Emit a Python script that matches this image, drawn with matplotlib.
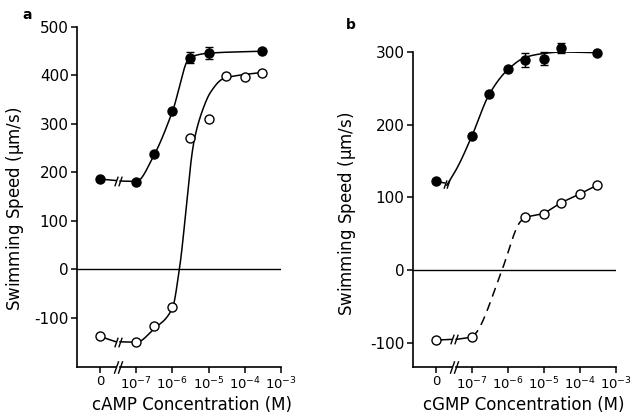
import numpy as np
import matplotlib
matplotlib.use("Agg")
import matplotlib.pyplot as plt
from matplotlib.path import Path

plt.rcParams['font.family'] = ['DejaVu Sans']
plt.rcParams['mathtext.default'] = 'regular'

# ---------------- data ----------------
# concentrations in M (0 = no nucleotide, drawn at the "0" tick)
a_filled_conc = [0, 1e-7, 3e-7, 1e-6, 3e-6, 1e-5, 3e-4]
a_filled_speed = [186, 181, 237, 326, 437, 446, 450]
a_filled_err = [0, 0, 0, 0, 12, 13, 0]

a_open_conc = [0, 1e-7, 3e-7, 1e-6, 3e-6, 1e-5, 3e-5, 1e-4, 3e-4]
a_open_speed = [-139, -151, -118, -79, 271, 311, 398, 396, 406]

b_filled_conc = [0, 1e-7, 3e-7, 1e-6, 3e-6, 1e-5, 3e-5, 3e-4]
b_filled_speed = [122, 185, 242, 276, 289, 291, 305, 298]
b_filled_err = [0, 0, 0, 0, 10, 9, 7, 0]

b_open_conc = [0, 1e-7, 3e-6, 1e-5, 3e-5, 1e-4, 3e-4]
b_open_speed = [-96, -92, 73, 78, 93, 105, 117]

# fitted curves (log10 concentration, speed)
a_filled_fit_x = [-7.45, -7.0, -6.52, -6.0, -5.52, -5.0, -3.52]
a_filled_fit_y = [182, 181, 234, 326, 437, 446, 450]
a_open_fit_x = [-7.45, -7.0, -6.52, -6.0, -5.81, -5.40, -5.16, -4.95, -4.6, -4.0, -3.52]
a_open_fit_y = [-150, -151, -124, -80, 0, 266, 330, 365, 393, 402, 406]
b_filled_fit_x = [-7.7, -7.4, -7.0, -6.52, -6.0, -5.5, -5.0, -4.5, -3.52]
b_filled_fit_y = [117, 142, 185, 242, 276, 293, 298, 300, 299]
b_open_dash_x = [-7.0, -6.87, -6.17, -5.67, -5.52]
b_open_dash_y = [-92, -85, 0, 66, 73]

xtick_pos = [-8, -7, -6, -5, -4, -3]
xtick_labels = ['0', '$10^{-7}$', '$10^{-6}$', '$10^{-5}$', '$10^{-4}$', '$10^{-3}$']


def xpos(conc):
    c = np.asarray(conc, dtype=float)
    out = np.full(c.shape, -8.0)
    nz = c > 0
    out[nz] = np.log10(c[nz])
    return out


def pchip(xk, yk, n=300):
    xk = np.asarray(xk, float)
    yk = np.asarray(yk, float)
    h = np.diff(xk)
    d = np.diff(yk) / h
    m = np.zeros_like(xk)
    m[0] = d[0]
    m[-1] = d[-1]
    for k in range(1, len(xk) - 1):
        if d[k - 1] * d[k] <= 0:
            m[k] = 0.0
        else:
            w1 = 2 * h[k] + h[k - 1]
            w2 = h[k] + 2 * h[k - 1]
            m[k] = (w1 + w2) / (w1 / d[k - 1] + w2 / d[k])
    xs = np.linspace(xk[0], xk[-1], n)
    idx = np.clip(np.searchsorted(xk, xs) - 1, 0, len(xk) - 2)
    t = (xs - xk[idx]) / h[idx]
    h00 = 2 * t**3 - 3 * t**2 + 1
    h10 = t**3 - 2 * t**2 + t
    h01 = -2 * t**3 + 3 * t**2
    h11 = t**3 - t**2
    ys = h00 * yk[idx] + h10 * h[idx] * m[idx] + h01 * yk[idx + 1] + h11 * h[idx] * m[idx + 1]
    return xs, ys


slash = Path([(-0.35, -1.0), (0.35, 1.0)], [Path.MOVETO, Path.LINETO])


def brk(ax, x1, x2, y, ms=7, clip=True):
    ax.plot([x1, x2], [y, y], ls='none', marker=slash, ms=ms, mec='black',
            mew=1.0, clip_on=clip, zorder=6)


def setup(ax, ylim, yticks, xlabel, xl_coords, yl_coords):
    ax.set_xlim(-8.64, -3.0)
    ax.set_ylim(*ylim)
    for s in ['top', 'right', 'bottom']:
        ax.spines[s].set_visible(False)
    ax.spines['left'].set_linewidth(1.2)
    ymin = ylim[0]
    ax.plot([-8.64, -7.56], [ymin, ymin], color='black', lw=1.2, clip_on=False)
    ax.plot([-7.44, -3.0], [ymin, ymin], color='black', lw=1.2, clip_on=False)
    brk(ax, -7.56, -7.44, ymin, ms=9, clip=False)
    ax.set_xticks(xtick_pos)
    ax.set_xticklabels(xtick_labels)
    ax.set_yticks(yticks)
    ax.set_yticklabels([str(v) for v in yticks])
    ax.tick_params(axis='both', direction='out', length=4, width=1.1,
                   labelsize=11, pad=2, color='black')
    ax.tick_params(axis='x', labelsize=9.5, pad=2)
    ax.axhline(0, color='black', lw=1.0, zorder=1)
    ax.set_xlabel(xlabel, fontsize=12)
    ax.set_ylabel('Swimming Speed ($\\mu$m/s)', fontsize=12)
    ax.xaxis.set_label_coords(*xl_coords)
    ax.yaxis.set_label_coords(*yl_coords)


fig = plt.figure(figsize=(6.38, 4.16), dpi=100)
axa = fig.add_axes([77 / 638, 49 / 416, 204 / 638, 340 / 416])
axb = fig.add_axes([413 / 638, 49 / 416, 203 / 638, 315 / 416])

lw = 1.1
mk = dict(ms=6.5, mew=1.0, mec='black', clip_on=False, zorder=5)

# ---------- panel a ----------
setup(axa, (-202, 500), [500, 400, 300, 200, 100, 0, -100], 'cAMP Concentration (M)',
      (0.564, -0.085), (-0.25, 0.465))
xf = xpos(a_filled_conc)
axa.plot([xf[0], -7.56], [a_filled_speed[0], 183], color='black', lw=lw)
cx, cy = pchip(a_filled_fit_x, a_filled_fit_y)
axa.plot(cx, cy, color='black', lw=lw)
brk(axa, -7.56, -7.44, 183)
axa.errorbar(xf, a_filled_speed, yerr=a_filled_err, fmt='o', color='black',
             mfc='black', capsize=3, elinewidth=1.0, capthick=1.2, **mk)

xo = xpos(a_open_conc)
axa.plot([xo[0], -7.56], [a_open_speed[0], -150], color='black', lw=lw)
cx, cy = pchip(a_open_fit_x, a_open_fit_y)
axa.plot(cx, cy, color='black', lw=lw)
brk(axa, -7.56, -7.44, -150)
axa.plot(xo, a_open_speed, 'o', mfc='white', **mk)

# ---------- panel b ----------
setup(axb, (-133, 300), [300, 200, 100, 0, -100], 'cGMP Concentration (M)',
      (0.547, -0.092), (-0.27, 0.486))
xf = xpos(b_filled_conc)
axb.plot([xf[0], -7.76], [b_filled_speed[0], 120], color='black', lw=lw)
brk(axb, -7.76, -7.68, 118, ms=6)
cx, cy = pchip(b_filled_fit_x, b_filled_fit_y)
axb.plot(cx, cy, color='black', lw=lw)
axb.errorbar(xf, b_filled_speed, yerr=b_filled_err, fmt='o', color='black',
             mfc='black', capsize=3, elinewidth=1.0, capthick=1.2, **mk)

xo = xpos(b_open_conc)
axb.plot([xo[0], -7.56], [b_open_speed[0], -95], color='black', lw=lw)
axb.plot([-7.44, xo[1]], [-95, b_open_speed[1]], color='black', lw=lw)
brk(axb, -7.56, -7.44, -95)
cx, cy = pchip(b_open_dash_x, b_open_dash_y)
axb.plot(cx, cy, color='black', lw=lw, dashes=(6, 4))
axb.plot(xo[2:], b_open_speed[2:], color='black', lw=lw)
axb.plot(xo, b_open_speed, 'o', mfc='white', **mk)

fig.text(27 / 638, 1 - 15 / 416, 'a', fontsize=10, fontweight='bold', ha='center', va='center')
fig.text(351 / 638, 1 - 25 / 416, 'b', fontsize=10, fontweight='bold', ha='center', va='center')

fig.savefig('out.png', dpi=100)
